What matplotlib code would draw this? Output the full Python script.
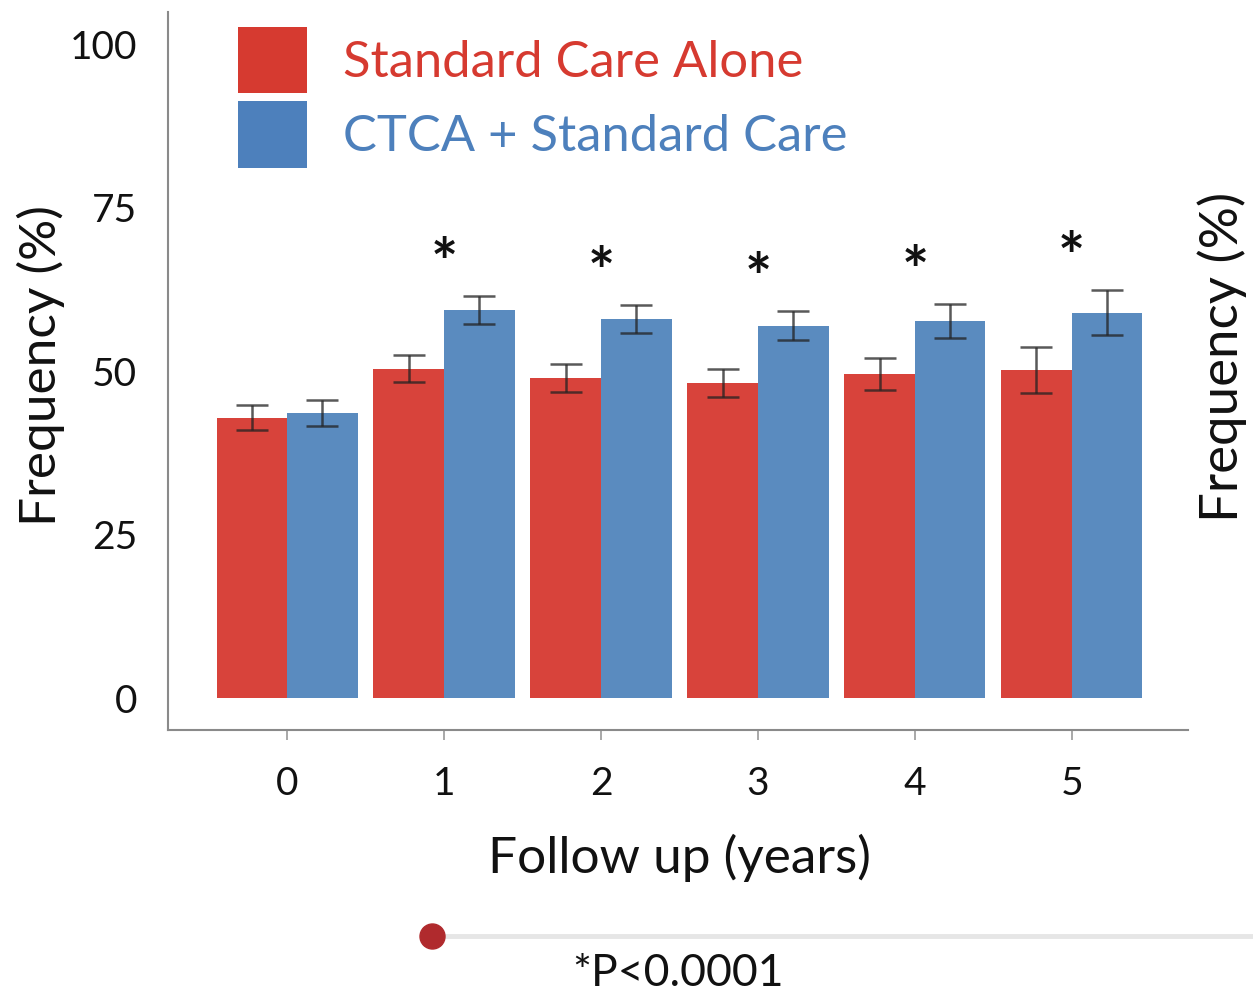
import numpy as np
import matplotlib
matplotlib.use("Agg")
import matplotlib.pyplot as plt
from matplotlib.lines import Line2D
from matplotlib.patches import Patch

plt.rcParams['font.family'] = ['Lato', 'DejaVu Sans']

years = [0, 1, 2, 3, 4, 5]
year_labels = ['0', '1', '2', '3', '4', '5']

# mean frequency (%) and error half-width per follow-up year
standard_care = [42.9, 50.4, 49.0, 48.2, 49.6, 50.2]
standard_err = [1.9, 2.1, 2.1, 2.1, 2.5, 3.5]
ctca_care = [43.6, 59.4, 58.0, 57.0, 57.7, 59.0]
ctca_err = [2.0, 2.1, 2.2, 2.2, 2.6, 3.4]

# years where the difference is significant
significant = [False, True, True, True, True, True]

series_names = ['Standard Care Alone', 'CTCA + Standard Care']
RED = '#d8433b'
BLUE = '#5a8bbf'
RED_KEY = '#d63a30'
BLUE_KEY = '#4d80bc'

fig = plt.figure(figsize=(12.53, 9.96), dpi=100)
ax = fig.add_axes([0.134, 0.267, 0.814, 0.721])

x = np.arange(len(years))
w = 0.45
err_kw = dict(ecolor='#222222', elinewidth=1.8, capsize=11.5, capthick=1.8, alpha=0.75)
ax.bar(x - w / 2, standard_care, w, color=RED, yerr=standard_err, error_kw=err_kw)
ax.bar(x + w / 2, ctca_care, w, color=BLUE, yerr=ctca_err, error_kw=err_kw)

for xi, top, e, sig in zip(x, ctca_care, ctca_err, significant):
    if sig:
        ax.text(xi, top + e + 4.5, '*', ha='center', va='center',
                fontsize=46, fontweight='bold', color='#111111')

ax.set_xlim(-0.76, 5.74)
ax.set_ylim(-4.9, 105)
ax.set_xticks(x)
ax.set_xticklabels(year_labels)
ax.set_yticks([0, 25, 50, 75, 100])
ax.tick_params(axis='x', direction='out', length=7, width=1.2, color='#999999',
               pad=19, labelsize=28, labelcolor='#111111')
ax.tick_params(axis='y', length=0, pad=22, labelsize=28, labelcolor='#111111')

for side in ['top', 'right']:
    ax.spines[side].set_visible(False)
for side in ['left', 'bottom']:
    ax.spines[side].set_color('#8a8a8a')
    ax.spines[side].set_linewidth(1.5)

ax.set_ylabel('Frequency (%)', fontsize=37, color='#111111')
ax.yaxis.set_label_coords(-0.101, 0.508)
ax.set_xlabel('Follow up (years)', fontsize=37, color='#111111')
ax.xaxis.set_label_coords(0.502, -0.145)

fig.text(1222 / 1253, 1 - 357 / 996, 'Frequency (%)', rotation=90,
         ha='center', va='center', fontsize=38, color='#111111')

handles = [Patch(facecolor=RED_KEY, edgecolor='none'),
           Patch(facecolor=BLUE_KEY, edgecolor='none')]
ax.legend(handles, series_names, loc='upper left', bbox_to_anchor=(0.039, 1.022),
          frameon=False, fontsize=36.5, handlelength=1.36, handleheight=1.65,
          handletextpad=0.7, labelspacing=0.15, borderaxespad=0.2,
          labelcolor=[RED_KEY, BLUE_KEY])

# footnote marker line
yl = 1 - 936 / 996
fig.add_artist(Line2D([432 / 1253, 1.0], [yl, yl], color='#e6e6e6', lw=3.5))
fig.add_artist(Line2D([432 / 1253], [yl], marker='o', markersize=18,
                      color='#b02a2d', lw=0))
fig.text(678 / 1253, 1 - 973 / 996, '*P<0.0001', ha='center', va='center',
         fontsize=32, color='#111111')

fig.savefig('out.png', dpi=100)
